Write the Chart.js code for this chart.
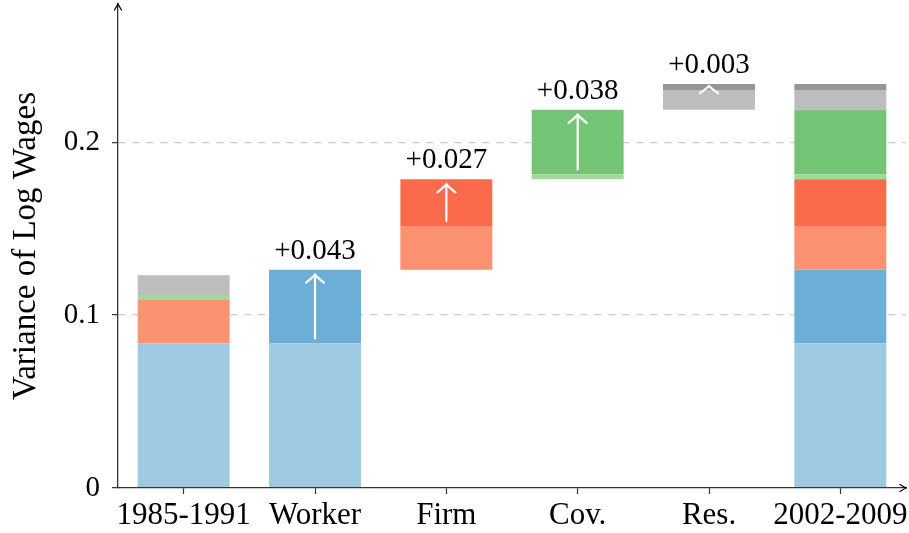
<!DOCTYPE html>
<html>
<head>
<meta charset="utf-8">
<script src="https://cdn.jsdelivr.net/npm/chart.js@4/dist/chart.umd.min.js"></script>
<style>
  html, body { margin: 0; padding: 0; background: #fff; }
  #wrap { width: 909px; height: 533px; }
</style>
</head>
<body>
<div id="wrap"><canvas id="chart" width="909" height="533"></canvas></div>
<script>
// categories on the x axis
const categories = ['1985-1991', 'Worker', 'Firm', 'Cov.', 'Res.', '2002-2009'];
// variance components in 1985-1991 (worker, firm, cov., res.)
const baseShares = [0.0836, 0.0252, 0.0028, 0.0115];
// change of each component up to 2002-2009
const changes = [0.0427, 0.0271, 0.0374, 0.0034];
const changeLabels = ['+0.043', '+0.027', '+0.038', '+0.003'];
const yTicks = [0, 0.1, 0.2];

const baseColors = ['#9ecae1', '#fc9272', '#a1d99b', '#bdbdbd'];
const changeColors = ['#6baed6', '#fb6a4a', '#74c476', '#969696'];
const FONT = "'Liberation Serif', 'Times New Roman', serif";

// build floating segments [low, high] per dataset
const datasets = [];
let cum1 = 0;      // first bar: only base components
let walk = 0;      // waterfall position
const last = categories.length - 1;
for (let k = 0; k < baseShares.length; k++) {
    const baseData = categories.map(() => null);
    const chgData = categories.map(() => null);
    baseData[0] = [cum1, cum1 + baseShares[k]];
    cum1 += baseShares[k];
    baseData[k + 1] = [walk, walk + baseShares[k]];
    chgData[k + 1] = [walk + baseShares[k], walk + baseShares[k] + changes[k]];
    baseData[last] = baseData[k + 1];
    chgData[last] = chgData[k + 1];
    walk += baseShares[k] + changes[k];
    datasets.push({data: baseData, backgroundColor: baseColors[k]});
    datasets.push({data: chgData, backgroundColor: changeColors[k]});
}
datasets.forEach(d => {
    d.grouped = false;
    d.barPercentage = 0.7;
    d.categoryPercentage = 1;
    d.borderWidth = 0;
});

function drawHead(ctx, x, tip, w, h) {
    ctx.beginPath();
    ctx.moveTo(x - w, tip + h);
    ctx.quadraticCurveTo(x - w * 0.25, tip + h * 0.35, x, tip);
    ctx.quadraticCurveTo(x + w * 0.25, tip + h * 0.35, x + w, tip + h);
    ctx.stroke();
}

const overlay = {
    id: 'overlay',
    afterDatasetsDraw(chart) {
        const ctx = chart.ctx;
        const xs = chart.scales.x, ys = chart.scales.y;
        ctx.save();
        for (let k = 0; k < changes.length; k++) {
            const seg = datasets[2 * k + 1].data[k + 1];
            const x = xs.getPixelForValue(k + 1);
            const yLo = ys.getPixelForValue(seg[0]);
            const yHi = ys.getPixelForValue(seg[1]);
            ctx.strokeStyle = '#fff';
            ctx.lineWidth = 2.2;
            ctx.lineCap = 'round';
            const tip = yHi + 5, tail = yLo - 5;
            if (tail - tip > 10) {
                ctx.beginPath();
                ctx.moveTo(x, tail);
                ctx.lineTo(x, tip + 1);
                ctx.stroke();
                drawHead(ctx, x, tip, 9, 8);
            } else {
                drawHead(ctx, x, yHi + 2, 9, 7);
            }
            ctx.fillStyle = '#000';
            ctx.font = '29px ' + FONT;
            ctx.textAlign = 'center';
            ctx.textBaseline = 'alphabetic';
            ctx.fillText(changeLabels[k], x, yHi - 11);
        }
        ctx.restore();
    },
    afterDraw(chart) {
        const ctx = chart.ctx;
        const a = chart.chartArea;
        ctx.save();
        ctx.strokeStyle = '#000';
        ctx.lineWidth = 1.3;
        ctx.lineCap = 'round';
        // y axis arrow
        ctx.beginPath();
        ctx.moveTo(a.left - 3.5, a.top + 6);
        ctx.quadraticCurveTo(a.left - 1, a.top + 2, a.left, a.top);
        ctx.quadraticCurveTo(a.left + 1, a.top + 2, a.left + 3.5, a.top + 6);
        ctx.stroke();
        // x axis arrow
        ctx.beginPath();
        ctx.moveTo(a.right - 6, a.bottom - 3.5);
        ctx.quadraticCurveTo(a.right - 2, a.bottom - 1, a.right, a.bottom);
        ctx.quadraticCurveTo(a.right - 2, a.bottom + 1, a.right - 6, a.bottom + 3.5);
        ctx.stroke();
        ctx.restore();
    }
};

new Chart(document.getElementById('chart'), {
    type: 'bar',
    data: {labels: categories, datasets: datasets},
    plugins: [overlay],
    options: {
        responsive: false,
        animation: false,
        layout: {padding: {top: 4, right: 3, left: 0, bottom: 0}},
        plugins: {legend: {display: false}, tooltip: {enabled: false}},
        scales: {
            x: {
                afterFit: s => { s.height = 45; s.paddingLeft = 0; s.paddingRight = 0; },
                grid: {drawOnChartArea: false, offset: false, tickLength: 6, tickColor: '#333', tickWidth: 1.2},
                border: {display: true, color: '#333', width: 1.3, z: 1},
                ticks: {color: '#000', font: {family: FONT, size: 31}, padding: 3, maxRotation: 0, autoSkip: false}
            },
            y: {
                min: 0,
                max: 0.28,
                afterFit: s => { s.width = 118; s.paddingTop = 0; s.paddingBottom = 0; },
                afterBuildTicks: s => { s.ticks = yTicks.map(v => ({value: v})); },
                grid: {
                    color: c => (c.tick && c.tick.value === 0) ? 'rgba(0,0,0,0)' : '#cccccc',
                    lineWidth: 1.3,
                    tickLength: 6,
                    tickColor: '#333',
                    tickWidth: 1.2,
                    tickBorderDash: []
                },
                border: {display: true, color: '#333', width: 1.3, dash: [7, 7], z: 1},
                ticks: {
                    color: '#000',
                    font: {family: FONT, size: 29},
                    padding: 12,
                    callback: v => String(v)
                },
                title: {
                    display: true,
                    text: 'Variance of Log Wages',
                    color: '#000',
                    font: {family: FONT, size: 33},
                    padding: {top: 7, bottom: 0}
                }
            }
        }
    }
});
</script>
</body>
</html>
